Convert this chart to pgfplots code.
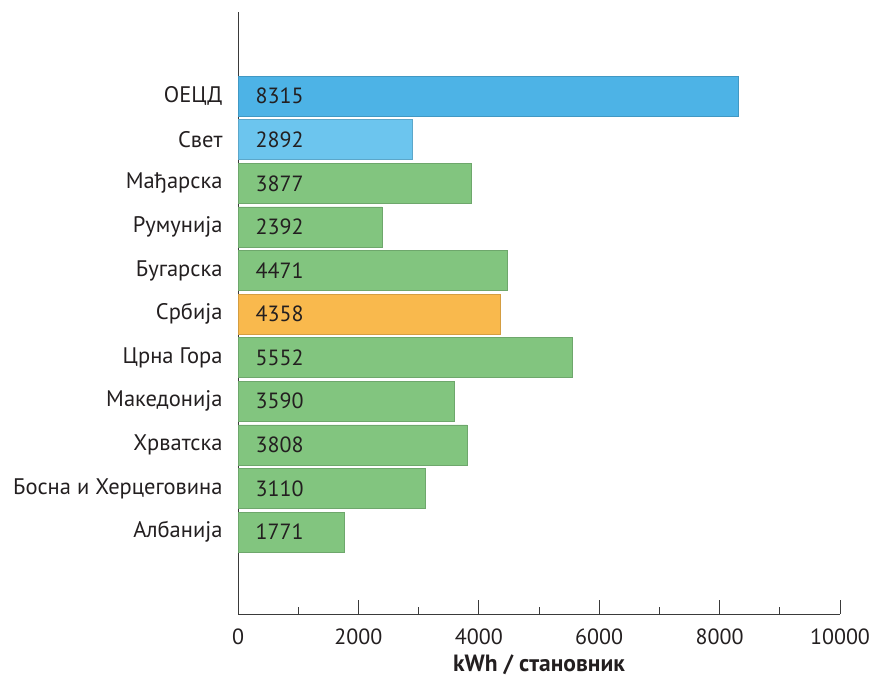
\documentclass[border=0pt]{standalone}
\usepackage{fontspec}
\setmainfont{PT Sans}
\usepackage{pgfplots}
\pgfplotsset{compat=1.18}
\usepackage{pgfplotstable}
\definecolor{oecd}{HTML}{4DB3E6}
\definecolor{svet}{HTML}{6CC5EE}
\definecolor{grn}{HTML}{82C57F}
\definecolor{srb}{HTML}{F9B94D}
\definecolor{txt}{HTML}{231F20}
\definecolor{axc}{HTML}{3A3A3A}
\pgfplotstableread{
y v
10 8315
}\tOECD
\pgfplotstableread{
y v
9 2892
}\tSvet
\pgfplotstableread{
y v
8 3877
7 2392
6 4471
4 5552
3 3590
2 3808
1 3110
0 1771
}\tGreen
\pgfplotstableread{
y v
5 4358
}\tSrb
\pgfplotstableread{
y v
10 8315
9 2892
8 3877
7 2392
6 4471
5 4358
4 5552
3 3590
2 3808
1 3110
0 1771
}\tAll
\begin{document}
\fontsize{22}{26}\selectfont
\begin{tikzpicture}
\path[use as bounding box] (0,0) rectangle (875pt,679pt);
\begin{axis}[
  at={(238pt,65pt)}, anchor=south west,
  scale only axis, width=602pt, height=602pt,
  xmin=0, xmax=10000, ymin=-1.88, ymax=11.93,
  axis x line*=bottom, axis y line*=left,
  axis line style={axc, line width=0.9pt, -},
  xtick={0,2000,...,10000}, minor xtick={1000,3000,...,9000},
  scaled x ticks=false,
  tick align=inside,
  major tick length=14pt, minor tick length=7pt,
  every tick/.style={axc, line width=0.9pt},
  ytick={0,...,10},
  yticklabels={Албанија,Босна и Херцеговина,Хрватска,Македонија,Црна Гора,Србија,Бугарска,Румунија,Мађарска,Свет,ОЕЦД},
  y tick style={draw=none},
  yticklabel style={xshift=6pt, text=txt, font=\fontsize{22.5}{26}\selectfont},
  xticklabel style={text=txt, yshift=-7pt, font=\fontsize{22}{26}\selectfont},
  /pgf/number format/assume math mode=true,
  /pgf/number format/1000 sep={},
  xlabel={\textbf{kWh / становник}},
  xlabel style={text=txt, yshift=5pt, font=\fontsize{23.5}{28}\selectfont},
  xbar, bar width=40pt, bar shift=0pt,
  clip=false,
]
\addplot[fill=oecd, draw=oecd!85!black, line width=0.6pt] table[x=v,y=y]{\tOECD};
\addplot[fill=svet, draw=svet!85!black, line width=0.6pt] table[x=v,y=y]{\tSvet};
\addplot[fill=grn, draw=grn!85!black, line width=0.6pt] table[x=v,y=y]{\tGreen};
\addplot[fill=srb, draw=srb!85!black, line width=0.6pt] table[x=v,y=y]{\tSrb};
\addplot[xbar=0pt, draw=none, fill=none, mark=none, bar width=0pt,
  point meta=explicit,
  nodes near coords={\pgfmathprintnumber[fixed,precision=0,1000 sep={}]{\pgfplotspointmeta}},
  every node near coord/.style={anchor=west, text=txt, xshift=10pt, font=\fontsize{22}{26}\selectfont},
  nodes near coords align={horizontal}]
  table[x expr=0, y=y, meta=v]{\tAll};
\end{axis}
\end{tikzpicture}
\end{document}
